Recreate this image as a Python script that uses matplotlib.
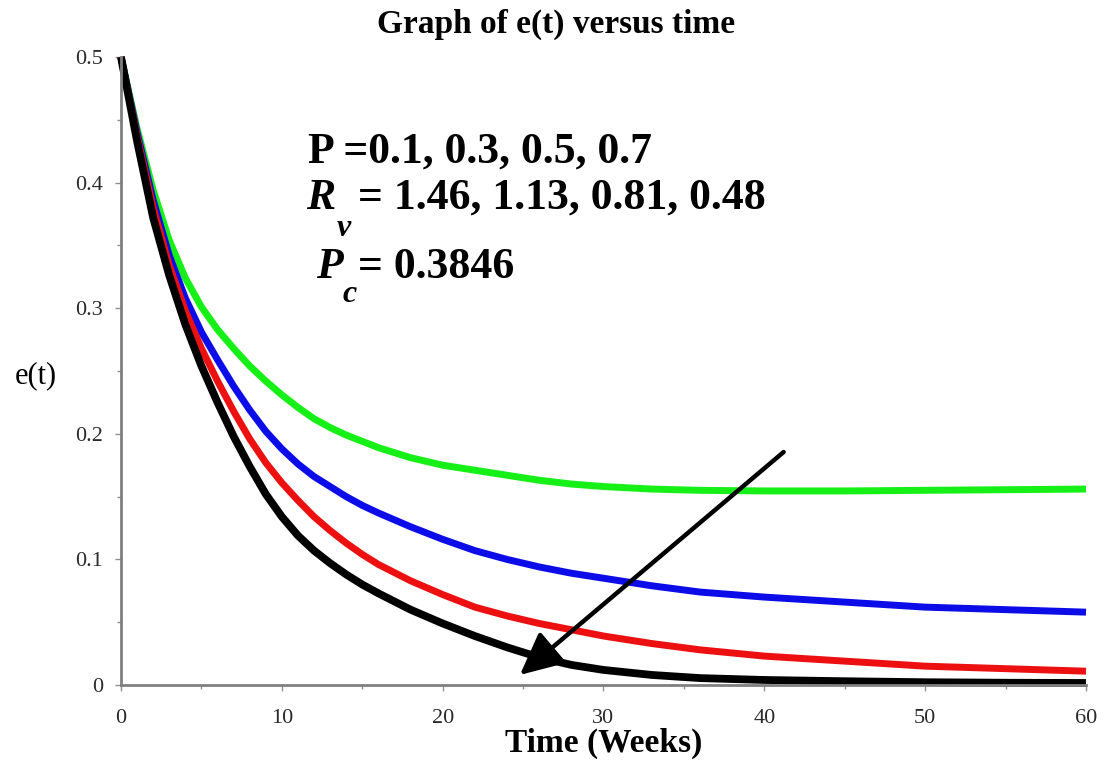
import matplotlib
matplotlib.use("Agg")
import matplotlib.pyplot as plt
from matplotlib.ticker import MultipleLocator, FixedLocator

plt.rcParams['font.family'] = ['Liberation Serif', 'DejaVu Serif']

# ---- data ----
t = [0, 1, 2, 3, 4, 5, 6, 7, 8, 9, 10, 11, 12, 13, 14, 15, 16,
     18, 20, 22, 24, 26, 28, 30, 33, 36, 40, 45, 50, 55, 60]
e_green = [0.500, 0.443, 0.394, 0.354, 0.324, 0.301, 0.283, 0.268, 0.254, 0.242,
           0.231, 0.221, 0.212, 0.205, 0.199, 0.194, 0.189,
           0.181, 0.175, 0.171, 0.167, 0.163, 0.160, 0.158,
           0.156, 0.155, 0.1545, 0.1545, 0.155, 0.1555, 0.156]
e_blue = [0.500, 0.440, 0.386, 0.342, 0.308, 0.281, 0.259, 0.238, 0.219, 0.202,
          0.188, 0.176, 0.166, 0.158, 0.150, 0.143, 0.137,
          0.126, 0.116, 0.107, 0.100, 0.094, 0.089, 0.085,
          0.079, 0.074, 0.070, 0.066, 0.062, 0.060, 0.058]
e_red = [0.500, 0.437, 0.380, 0.334, 0.298, 0.268, 0.242, 0.218, 0.196, 0.177,
         0.161, 0.147, 0.134, 0.123, 0.113, 0.104, 0.096,
         0.083, 0.072, 0.062, 0.055, 0.049, 0.044, 0.039,
         0.033, 0.028, 0.023, 0.019, 0.015, 0.013, 0.011]
e_black = [0.500, 0.433, 0.372, 0.326, 0.287, 0.254, 0.225, 0.198, 0.174, 0.152,
           0.134, 0.119, 0.107, 0.097, 0.088, 0.080, 0.073,
           0.060, 0.049, 0.039, 0.030, 0.022, 0.016, 0.012,
           0.008, 0.0055, 0.004, 0.003, 0.0022, 0.0018, 0.0016]

series = [
    (e_green, '#16f016'),
    (e_blue, '#0c0ce8'),
    (e_red, '#ec1010'),
    (e_black, '#000000'),
]

x_ticks = [0, 10, 20, 30, 40, 50, 60]
y_ticks = [0, 0.1, 0.2, 0.3, 0.4, 0.5]
y_tick_labels = ['0', '0.1', '0.2', '0.3', '0.4', '0.5']

W, H = 1107, 760
fig = plt.figure(figsize=(W / 100, H / 100), dpi=100)
ax = fig.add_axes([121 / W, 1 - 685 / H, (1086 - 121) / W, (685 - 57) / H])

for vals, col in series:
    lw = 5.6 if col == '#000000' else 5.0
    ax.plot(t, vals, color=col, lw=lw, solid_capstyle='butt',
            solid_joinstyle='round', clip_on=False)

ax.set_xlim(0, 60)
ax.set_ylim(0, 0.5)
ax.xaxis.set_major_locator(FixedLocator(x_ticks))
ax.xaxis.set_minor_locator(MultipleLocator(5))
ax.yaxis.set_major_locator(FixedLocator(y_ticks))
ax.yaxis.set_minor_locator(MultipleLocator(0.05))
ax.set_yticklabels(y_tick_labels)
ax.set_xticklabels([str(v) for v in x_ticks])

for s in ['top', 'right']:
    ax.spines[s].set_visible(False)
for s in ['left', 'bottom']:
    ax.spines[s].set_color('#808080')
    ax.spines[s].set_linewidth(2.0)

ax.tick_params(which='both', direction='out', color='#909090', width=1.0,
               labelsize=16, labelcolor='#2a2a2a')
ax.tick_params(which='major', length=4)
ax.tick_params(which='minor', length=3)
ax.tick_params(axis='x', pad=13)
ax.tick_params(axis='y', pad=9)

# axis labels / title
fig.text(556 / W, 1 - 24 / H, 'Graph of e(t) versus time', ha='center', va='center',
         fontsize=24, fontweight='bold')
fig.text(604 / W, 1 - 743 / H, 'Time (Weeks)', ha='center', va='center',
         fontsize=24, fontweight='bold')
fig.text(36 / W, 1 - 376 / H, 'e(t)', ha='center', va='center', fontsize=22)

# annotation text
fs = 31.5
fig.text(308 / W, 1 - 163 / H, 'P =0.1, 0.3, 0.5, 0.7', ha='left', va='baseline',
         fontsize=fs, fontweight='bold')
fig.text(306 / W, 1 - 209 / H, 'R', ha='left', va='baseline', fontsize=fs,
         fontweight='bold', fontstyle='italic')
fig.text(337 / W, 1 - 236 / H, 'v', ha='left', va='baseline', fontsize=23,
         fontweight='bold', fontstyle='italic')
fig.text(358 / W, 1 - 209 / H, '= 1.46, 1.13, 0.81, 0.48', ha='left', va='baseline',
         fontsize=fs, fontweight='bold')
fig.text(316 / W, 1 - 278 / H, 'P', ha='left', va='baseline', fontsize=fs,
         fontweight='bold', fontstyle='italic')
fig.text(343 / W, 1 - 302 / H, 'c', ha='left', va='baseline', fontsize=23,
         fontweight='bold', fontstyle='italic')
fig.text(358 / W, 1 - 278 / H, '= 0.3846', ha='left', va='baseline',
         fontsize=fs, fontweight='bold')

# arrow showing the direction of increasing P
arrow_tail = (41.2, 0.1855)
arrow_tip = (24.8, 0.008)
ax.annotate('', xy=arrow_tip, xytext=arrow_tail,
            arrowprops=dict(arrowstyle='-|>,head_length=0.5,head_width=0.24',
                            lw=3.2, color='black', mutation_scale=52,
                            shrinkA=0, shrinkB=0))

fig.savefig('out.png', dpi=100)
